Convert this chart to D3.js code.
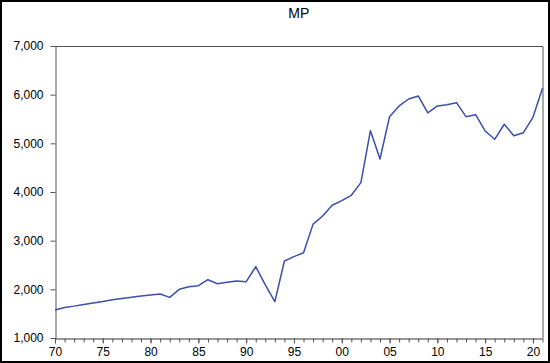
<!DOCTYPE html>
<html lang="en">
<head>
<meta charset="utf-8">
<script src="https://d3js.org/d3.v7.min.js"></script>
<title>MP</title>
<style>
    body { margin: 0; background: #fff; }
    svg { display: block; font-family: "Liberation Sans", Arial, sans-serif; }
</style>
</head>
<body>
<div id="chart"></div>
<script type="text/javascript">
// series
var years = [1970, 1971, 1972, 1973, 1974, 1975, 1976, 1977, 1978, 1979,
             1980, 1981, 1982, 1983, 1984, 1985, 1986, 1987, 1988, 1989,
             1990, 1991, 1992, 1993, 1994, 1995, 1996, 1997, 1998, 1999,
             2000, 2001, 2002, 2003, 2004, 2005, 2006, 2007, 2008, 2009,
             2010, 2011, 2012, 2013, 2014, 2015, 2016, 2017, 2018, 2019,
             2020, 2021];
var mp = [1575, 1625, 1655, 1690, 1720, 1750, 1785, 1810, 1835, 1865,
          1885, 1905, 1835, 2000, 2055, 2075, 2198, 2116, 2145, 2171,
          2157, 2465, 2090, 1746, 2582, 2671, 2753, 3340, 3507, 3727,
          3822, 3932, 4192, 5260, 4678, 5548, 5768, 5911, 5973, 5625,
          5768, 5794, 5835, 5548, 5589, 5254, 5083, 5392, 5157, 5219,
          5535, 6131];

var yTicks = [1000, 2000, 3000, 4000, 5000, 6000, 7000];
var xTickYears = [1970, 1975, 1980, 1985, 1990, 1995, 2000, 2005, 2010, 2015, 2020];
var xTickLabels = ["70", "75", "80", "85", "90", "95", "00", "05", "10", "15", "20"];

var W = 550, H = 363;
var margin = {left: 55, right: 542.5, top: 46, bottom: 338};

var svg = d3.select("#chart").append("svg")
    .attr("width", W)
    .attr("height", H);

// outer frame
svg.append("rect")
    .attr("x", 1).attr("y", 1)
    .attr("width", W - 2).attr("height", H - 2)
    .attr("fill", "none")
    .attr("stroke", "#000")
    .attr("stroke-width", 2);

var x = d3.scaleLinear().domain([1970, 2021]).range([margin.left, margin.right]);
var y = d3.scaleLinear().domain([1000, 7000]).range([margin.bottom, margin.top]);

// plot box (top and right)
svg.append("path")
    .attr("d", "M" + margin.left + "," + (margin.top + 0.5) + "H" + (margin.right + 0.5) + "V" + margin.bottom)
    .attr("fill", "none")
    .attr("stroke", "#555")
    .attr("stroke-width", 1);

// y axis
var yAxis = svg.append("g")
    .attr("transform", "translate(" + (margin.left + 0.5) + ",0)")
    .call(d3.axisLeft(y).tickValues(yTicks).tickSize(5).tickPadding(7)
        .tickFormat(d3.format(",")).tickSizeOuter(0));
yAxis.select(".domain").attr("stroke", "#555");
yAxis.selectAll(".tick line").attr("stroke", "#555");
yAxis.selectAll("text").attr("font-size", 12).attr("fill", "#000")
    .attr("font-family", "'Liberation Sans', Arial, sans-serif");

// x axis: minor ticks every year
var minorYears = d3.range(1970, 2022);
var xMinor = svg.append("g")
    .attr("transform", "translate(0," + (margin.bottom + 0.5) + ")")
    .call(d3.axisBottom(x).tickValues(minorYears).tickSize(4).tickFormat("").tickSizeOuter(0));
xMinor.select(".domain").attr("stroke", "#333");
xMinor.selectAll(".tick line").attr("stroke", "#555");

var xAxis = svg.append("g")
    .attr("transform", "translate(0," + (margin.bottom + 0.5) + ")")
    .call(d3.axisBottom(x).tickValues(xTickYears).tickSize(5).tickPadding(4)
        .tickFormat(function(d, i) { return xTickLabels[i]; }).tickSizeOuter(0));
xAxis.select(".domain").remove();
xAxis.selectAll(".tick line").attr("stroke", "#555");
xAxis.selectAll("text").attr("font-size", 12).attr("fill", "#000")
    .attr("font-family", "'Liberation Sans', Arial, sans-serif");

// the series
var line = d3.line()
    .x(function(d, i) { return x(years[i]); })
    .y(function(d) { return y(d); });

svg.append("path")
    .datum(mp)
    .attr("d", line)
    .attr("fill", "none")
    .attr("stroke", "#3a4fae")
    .attr("stroke-width", 1.5)
    .attr("stroke-linejoin", "round");

// title
svg.append("text")
    .attr("x", (margin.left + margin.right) / 2)
    .attr("y", 18)
    .attr("text-anchor", "middle")
    .attr("font-size", 14)
    .text("MP");
</script>
</body>
</html>
